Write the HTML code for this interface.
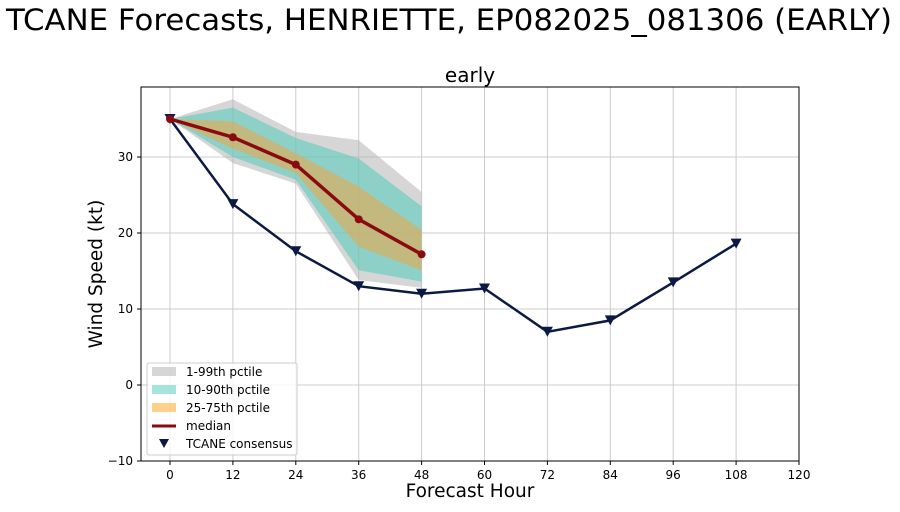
<!DOCTYPE html>
<html><head><meta charset="utf-8"><style>
body{margin:0;background:#fff;width:900px;height:507px;overflow:hidden}
svg{font-family:"DejaVu Sans","Liberation Sans",sans-serif}
</style></head><body>
<svg id="c" width="900" height="507">
<text x="449" y="30" font-size="29" text-anchor="middle" textLength="886" lengthAdjust="spacingAndGlyphs">TCANE Forecasts, HENRIETTE, EP082025_081306 (EARLY)</text>
<text x="470" y="82" font-size="20" text-anchor="middle">early</text>
<text x="470" y="497" font-size="18.5" text-anchor="middle">Forecast Hour</text>
<text transform="translate(102,274) rotate(-90)" font-size="18.5" text-anchor="middle">Wind Speed (kt)</text>
<g id="grid"></g><g id="bands"></g><g id="lines"></g><g id="axes"></g>
<g>
<rect x="147" y="363" width="150" height="92" fill="#fff" fill-opacity="0.8" stroke="#ccc" rx="2"/>
<rect x="152" y="367" width="24" height="9" fill="#bbb" fill-opacity="0.6"/>
<text x="186" y="376" font-size="12">1-99th pctile</text>
<rect x="152" y="385" width="24" height="9" fill="#7fd8cc" fill-opacity="0.7"/>
<text x="186" y="394" font-size="12">10-90th pctile</text>
<rect x="152" y="403" width="24" height="9" fill="#ffbf66" fill-opacity="0.75"/>
<text x="186" y="412" font-size="12">25-75th pctile</text>
<line x1="152" y1="426" x2="176" y2="426" stroke="#8b0a12" stroke-width="3"/>
<text x="186" y="430" font-size="12">median</text>
<path d="M159,439 L169,439 L164,448 Z" fill="#0b1a42"/>
<text x="186" y="448" font-size="12">TCANE consensus</text>
</g>
</svg>
<script>
const bandHours=[0,12,24,36,48];
const p01=[35,29.2,26.5,13.8,12.8];
const p99=[35,37.6,33.3,32.2,25.4];
const p10=[35,30.0,27.0,15.1,13.6];
const p90=[35,36.5,32.5,29.8,23.5];
const p25=[35,31.1,27.9,18.2,15.1];
const p75=[35,34.7,30.5,26.1,20.4];
const median=[35,32.6,29.0,21.8,17.2];
const tcaneHours=[0,12,24,36,48,60,72,84,96,108];
const tcane=[35,23.8,17.6,13.0,12.0,12.7,7.0,8.5,13.5,18.6];
const xTicks=[0,12,24,36,48,60,72,84,96,108,120];
const yTicks=[-10,0,10,20,30];
const L=141,R=799,T=87,B=461;
const X=h=>170+h*(799-170)/120;
const Y=v=>385-v*7.6;
const NS='http://www.w3.org/2000/svg';
function mk(tag,attrs,parent){const e=document.createElementNS(NS,tag);for(const k in attrs)e.setAttribute(k,attrs[k]);document.getElementById(parent).appendChild(e);return e;}
xTicks.forEach(h=>{
 const g=mk('line',{x1:X(h),x2:X(h),y1:T,y2:B,stroke:'#ccc','stroke-width':1},'grid');
 
 
 const t=mk('line',{x1:X(h),x2:X(h),y1:B,y2:B+4,stroke:'#000'},'axes');
 
 
 const l=mk('text',{x:X(h),y:B+18,'font-size':12,'text-anchor':'middle'},'axes');l.textContent=h;
 
 
});
yTicks.forEach(v=>{
 const g=mk('line',{x1:L,x2:R,y1:Y(v),y2:Y(v),stroke:'#ccc','stroke-width':1},'grid');
 
 
 const t=mk('line',{x1:L-4,x2:L,y1:Y(v),y2:Y(v),stroke:'#000'},'axes');
 
 
 const l=mk('text',{x:L-8,y:Y(v)+4,'font-size':12,'text-anchor':'end'},'axes');l.textContent=(v<0?'\u2212'+(-v):v);
 
 
});
const fr=mk('rect',{x:L,y:T,width:R-L,height:B-T,fill:'none',stroke:'#000','stroke-width':1},'axes');


function band(lo,hi,fill,op,name){
 let d='M'+bandHours.map((h,i)=>X(h)+','+Y(hi[i])).join(' L');
 d+=' L'+bandHours.slice().reverse().map((h,j)=>{const i=bandHours.length-1-j;return X(h)+','+Y(lo[i]);}).join(' L')+' Z';
 const p=mk('path',{d:d,fill:fill,'fill-opacity':op},'bands');
 
 
}
band(p01,p99,'#b4b4b4',0.55,'band-1-99');
band(p10,p90,'#5ccbbd',0.6,'band-10-90');
band(p25,p75,'#e8a84c',0.6,'band-25-75');
const tl=mk('polyline',{points:tcaneHours.map((h,i)=>X(h)+','+Y(tcane[i])).join(' '),fill:'none',stroke:'#0b1a42','stroke-width':2.5},'lines');


tcaneHours.forEach((h,i)=>{const x=X(h),y=Y(tcane[i]);
 const m=mk('path',{d:`M${x-5.5},${y-5} L${x+5.5},${y-5} L${x},${y+5} Z`,fill:'#0b1a42'},'lines');
 
 
});
const ml=mk('polyline',{points:bandHours.map((h,i)=>X(h)+','+Y(median[i])).join(' '),fill:'none',stroke:'#8b0a12','stroke-width':3.5},'lines');


bandHours.forEach((h,i)=>{
 const c=mk('circle',{cx:X(h),cy:Y(median[i]),r:4,fill:'#8b0a12'},'lines');
 
 
});
</script>
</body></html>
